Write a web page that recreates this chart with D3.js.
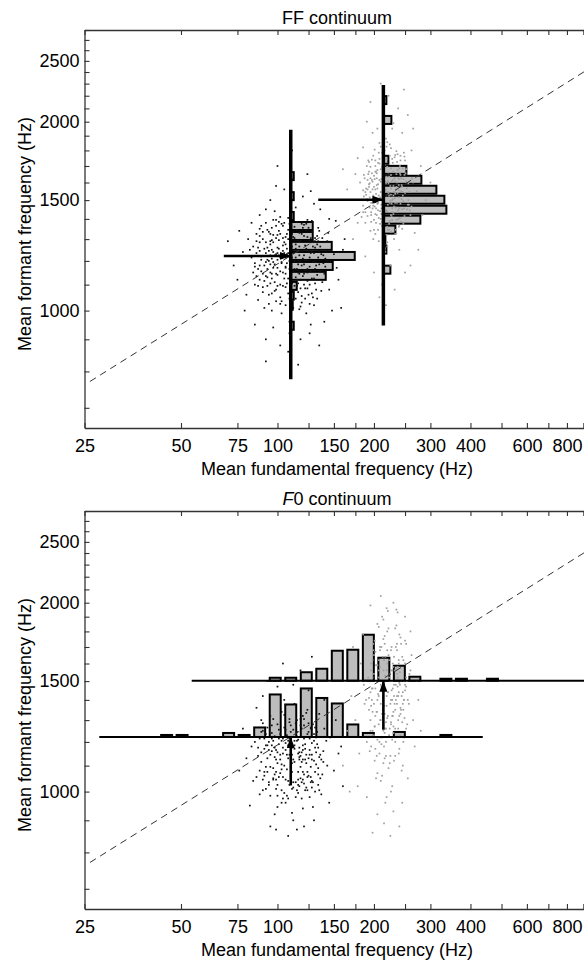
<!DOCTYPE html>
<html>
<head>
<meta charset="utf-8">
<script src="https://cdn.jsdelivr.net/npm/d3@7"></script>
<style>
body { margin: 0; background: #fff; }
text { font-family: "Liberation Sans", Arial, sans-serif; fill: #000; }
</style>
</head>
<body>
<svg id="fig" width="584" height="962"></svg>
<script>
// ---- axes ----
let xTicks = [25, 50, 75, 100, 125, 150, 175, 200, 250, 300, 400, 500, 600, 700, 800, 900, 1000];
let xTickLabels = [25, 50, 75, 100, 150, 200, 300, 400, 600, 800];
let yTicks = [700, 800, 900, 1000, 1100, 1200, 1300, 1400, 1500, 1600, 1700, 1800, 1900, 2000,
	2100, 2200, 2300, 2400, 2500, 2600, 2700, 2800];
let yTickLabels = [1000, 1500, 2000, 2500];
let titles = ["FF continuum", "F0 continuum"];

// category means (F0 Hz, formant Hz) and the dashed line through them
let meanF0 = [110, 214];
let meanF = [1222, 1502];
let diagonal = [[26, 771], [1000, 2480]];

// ---- FF continuum: formant histograms hung on the mean F0 ----
let ffSpan = [[777, 1941], [947, 2289]];
let ffBins1 = [1638, 1522, 1415, 1364, 1315, 1268, 1222, 1178, 1136, 1095, 1056, 1018, 946];
let ffCounts1 = [6, 6, 6, 44, 44, 82, 128, 84, 70, 12, 6, 4, 6];
let ffBins2 = [2165, 2013, 1739, 1676, 1616, 1558, 1502, 1448, 1396, 1346, 1297, 1251, 1162];
let ffCounts2 = [6, 16, 10, 46, 76, 106, 122, 126, 74, 24, 4, 6, 14];
let ffArrowTailF0 = [68, 134];

// ---- F0 continuum: F0 histograms laid on the mean formant ----
let f0Span = [[27.8, 437], [54, 1000]];
let f0Bins = [45.1, 50.4, 56.4, 63.0, 70.4, 78.7, 88.0, 98.4, 110.0, 123.0, 137.5, 153.7, 171.8,
	192.1, 214.7, 240.0, 268.3, 300.0, 335.3, 374.9, 419.1, 468.5];
let f0Counts1 = [4, 4, 0, 0, 8, 4, 19, 85, 65, 97, 78, 67, 25, 8, 0, 10, 0, 0, 4, 0, 0, 0];
let f0Counts2 = [0, 0, 0, 0, 0, 0, 0, 6, 6, 17, 24, 60, 62, 92, 46, 30, 8, 0, 4, 4, 0, 4];
let f0ArrowTailF = [1023, 1255];

// ---- scatter tokens [F0, formant] ----
let ffTokens1 = [
[96,1210],[104,1150],[118,1290],[88,1120],[125,1060],[101,1340],[112,1010],[93,1260],[132,1180],[107,1230],
[85,1190],[99,1080],[121,1370],[115,1120],[90,1300],[128,1240],[103,990],[95,1150],[138,1110],[110,1420],
[82,1250],[106,1170],[119,1030],[92,1380],[134,1290],[100,1260],[113,1200],[87,1040],[124,1150],[97,1320],
[141,1210],[109,960],[91,1180],[117,1330],[102,1100],[130,1020],[86,1290],[122,1270],[105,1380],[94,1060],
[147,1160],[111,1250],[98,1440],[126,1100],[89,1220],[135,1340],[103,1190],[116,1070],[84,1150],[120,1210],
[108,1300],[96,1000],[131,1260],[93,1130],[114,1460],[145,1080],[100,1170],[123,990],[88,1350],[110,1140],
[137,1230],[95,1290],[119,1180],[102,1050],[128,1390],[90,1070],[112,1310],[99,1230],[143,1290],[106,1090],
[81,1300],[127,950],[97,1170],[115,1240],[92,1450],[133,1140],[104,1270],[87,1260],[121,1100],[109,1200],
[150,1230],[94,1200],[118,1120],[100,1320],[129,1050],[85,1100],[113,1360],[106,1020],[139,1190],[96,1250],
[124,1310],[91,1010],[110,1280],[102,1410],[132,1080],[88,1180],[116,1150],[98,1110],[144,1330],[107,1190],
[78,1240],[76,1340],[155,1120],[160,1250],[152,1390],[80,1060],[73,1180],[158,1010],[120,1520],[105,1560],
[95,1500],[130,1480],[112,1620],[100,1700],[118,900],[92,900],[135,880],[108,860],[126,920],[85,950],
[140,960],[97,940],[148,1000],[88,1420],[75,1120],[162,1300],[111,1800],[124,1650],[92,830],[116,820],
[70,1290],[102,880],[136,1450],[83,1380],[153,1170],[99,1580],[127,1550],[109,920],[145,1400],[79,1000],
[101,1225],[113,1165],[95,1275],[123,1205],[87,1165],[108,1345],[118,1085],[99,1145],[127,1285],[92,1235],
[111,1105],[104,1305],[131,1165],[96,1065],[115,1385],[89,1205],[122,1045],[107,1255],[136,1265],[98,1185],
[119,1325],[93,1095],[112,1235],[128,1125],[86,1325],[103,1035],[125,1355],[97,1395],[117,1005],[109,1165],
[140,1145],[90,1145],[114,1275],[100,1095],[133,1315],[94,1335],[121,1145],[106,1215],[88,1285],[129,1195],
[102,1155],[116,1295],[95,1225],[124,1085],[110,1355],[91,1115],[134,1215],[105,1125],[120,1245],[97,1285],
[83,1215],[126,1175],[108,1065],[99,1365],[118,1195],[93,1165],[131,1105],[112,1335],[87,1095],[104,1245],
[142,1245],[96,1125],[115,1165],[101,1295],[128,1335],[90,1335],[120,1135],[107,1105],[135,1185],[98,1225],
[123,1255],[110,1185],[94,1025],[117,1225],[103,1375],[86,1235],[126,1025],[113,1095],[100,1205],[138,1305],
[92,1195],[121,1315],[105,1285],[130,1235],[96,1355],[114,1045],[108,1405],[89,1155],[127,1155],[119,1375],
[102,1325],[133,1045],[95,1105],[111,1265],[124,1395],[99,1035],[116,1105],[84,1265],[146,1195],[106,1145],
[97,1240],[114,1130],[106,1310],[121,1185],[90,1090],[131,1305],[100,1140],[117,1265],[93,1345],[126,1215],
[109,1045],[103,1195],[136,1155],[88,1245],[119,1055],[111,1325],[95,1185],[128,1065],[105,1235],[98,1075],
[123,1375],[114,1215],[86,1135],[133,1275],[101,1255],[117,1145],[92,1285],[127,1305],[108,1125],[99,1395],
[139,1225],[112,1075],[94,1245],[121,1225],[104,1095],[130,1125],[89,1365],[115,1345],[106,1275],[124,1115],
[96,1145],[111,1215],[134,1355],[102,1025],[118,1245],[91,1255],[129,1265],[107,1325],[97,1195],[122,1085],
[113,1305],[100,1235],[137,1075],[85,1175],[116,1185],[104,1365],[126,1295],[93,1205],[110,1045],[131,1195],
[99,1305],[120,1355],[106,1175],[88,1315],[124,1165],[114,1255],[95,1325],[135,1245],[102,1215],[118,1015],
[109,1375],[127,1235],[92,1135],[115,1095],[101,1385],[141,1175],[108,1235],[96,1295],[123,1345],[112,1155]
];
let ffTokens2 = [
[205,1480],[218,1560],[196,1420],[232,1510],[211,1620],[189,1530],[245,1450],[224,1390],[202,1700],[214,1350],
[236,1600],[198,1560],[227,1480],[207,1290],[250,1540],[192,1650],[219,1440],[241,1700],[203,1380],[230,1580],
[185,1470],[213,1750],[238,1400],[200,1510],[222,1660],[209,1440],[247,1620],[195,1340],[226,1530],[216,1800],
[181,1600],[234,1460],[206,1590],[256,1500],[199,1470],[220,1360],[243,1550],[210,1680],[188,1380],[229,1720],
[217,1240],[201,1620],[239,1360],[193,1590],[224,1840],[212,1500],[252,1680],[204,1420],[235,1650],[197,1740],
[260,1420],[215,1580],[186,1520],[231,1300],[208,1850],[242,1480],[199,1300],[221,1610],[249,1760],[190,1700],
[226,1420],[213,1660],[237,1540],[202,1560],[265,1600],[219,1320],[194,1460],[233,1770],[210,1400],[245,1350],
[183,1410],[228,1500],[206,1720],[254,1450],[218,1880],[200,1640],[240,1620],[214,1230],[191,1560],[225,1580],
[170,1500],[175,1650],[272,1550],[280,1700],[178,1380],[268,1330],[165,1560],[290,1500],[185,1820],[262,1800],
[205,1950],[230,1990],[215,2080],[198,1920],[245,1920],[222,2200],[210,2300],[238,2100],[190,2000],[255,2050],
[200,1150],[225,1180],[240,1250],[212,1100],[188,1220],[250,1150],[232,1080],[218,1020],[275,1250],[260,1180],
[160,1680],[172,1300],[283,1420],[300,1600],[178,1750],[195,2150],[248,2250],[228,1950],[208,1050],[265,1950],
[207,1525],[221,1475],[198,1605],[234,1555],[213,1415],[191,1495],[244,1585],[226,1645],[203,1455],[216,1705],
[238,1445],[200,1395],[229,1615],[210,1545],[252,1605],[195,1545],[223,1525],[241,1655],[206,1345],[233,1485],
[187,1625],[214,1645],[247,1495],[202,1735],[227,1415],[218,1595],[236,1725],[196,1385],[211,1475],[258,1545],
[204,1625],[224,1765],[193,1665],[239,1515],[215,1315],[230,1665],[200,1575],[249,1415],[220,1695],[209,1375],
[188,1435],[231,1545],[212,1785],[243,1625],[199,1505],[226,1335],[217,1545],[254,1685],[205,1565],[235,1395],
[192,1735],[222,1595],[240,1455],[208,1715],[228,1455],[197,1655],[246,1545],[214,1465],[232,1625],[202,1425],
[262,1465],[219,1745],[189,1565],[237,1775],[210,1605],[225,1495],[201,1805],[243,1385],[216,1635],[230,1425],
[194,1515],[250,1735],[206,1485],[223,1375],[239,1585],[212,1695],[198,1455],[233,1535],[220,1285],[246,1685],
[185,1555],[228,1745],[209,1515],[256,1595],[203,1665],[236,1485],[217,1405],[191,1615],[242,1765],[213,1575],
[226,1565],[200,1345],[248,1455],[219,1635],[207,1785],[234,1345],[195,1695],[221,1545],[240,1685],[211,1425],
[209,1505],[222,1535],[201,1465],[235,1575],[215,1655],[194,1595],[246,1525],[228,1395],[205,1675],[218,1445],
[238,1625],[199,1525],[231,1465],[212,1365],[253,1565],[197,1615],[224,1485],[242,1735],[207,1405],[233,1605],
[190,1505],[216,1725],[240,1365],[203,1535],[226,1685],[211,1455],[249,1645],[196,1435],[229,1505],[219,1825],
[186,1645],[236,1435],[208,1615],[257,1475],[201,1495],[223,1345],[245,1575],[213,1705],[191,1415],[232,1755],
[220,1265],[204,1655],[241,1405],[195,1625],[226,1815],[214,1525],[251,1655],[206,1445],[237,1675],[199,1765],
[259,1445],[217,1605],[188,1545],[233,1325],[210,1825],[244,1505],[202,1325],[223,1635],[248,1785],[193,1725],
[228,1435],[215,1685],[239,1555],[204,1585],[263,1625],[221,1345],[196,1485],[235,1795],[212,1385],[247,1375],
[185,1435],[230,1525],[208,1745],[255,1475],[220,1855],[202,1665],[242,1645],[216,1255],[193,1575],[227,1605]
];
let f0Tokens1 = [
[105,1100],[118,1050],[96,1160],[125,1130],[110,1220],[88,1080],[131,1000],[100,1280],[114,980],[122,1190],
[93,1130],[108,1040],[127,1260],[99,1010],[116,1150],[85,1200],[134,1090],[103,1340],[120,940],[111,1110],
[90,1250],[128,1040],[97,1090],[115,1300],[106,960],[139,1160],[92,1010],[123,1110],[101,1190],[117,1020],
[87,1140],[132,1220],[110,1060],[95,1320],[126,980],[104,1150],[119,1260],[91,1060],[136,1050],[107,1230],
[98,920],[124,1350],[113,1170],[89,1300],[130,1120],[102,1070],[121,1030],[94,1200],[143,1100],[109,1290],
[84,1040],[118,1140],[100,1110],[129,1280],[112,900],[96,1240],[125,1060],[105,1400],[137,990],[91,1170],
[116,1210],[103,960],[133,1190],[88,990],[120,1320],[108,1130],[146,1220],[97,1050],[122,1170],[111,1010],
[80,1130],[150,1080],[155,1150],[78,1260],[160,1020],[82,950],[95,880],[115,870],[130,900],[108,850],
[125,1450],[100,1470],[140,1400],[90,1420],[112,1480],[135,1330],[86,1360],[118,1560],[104,1600],[128,1640],
[145,960],[76,1080],[152,1300],[99,870],[121,880],[140,1260],[83,1180],[158,1180],[93,1500],[113,1380],
[107,1085],[120,1125],[97,1045],[113,1205],[128,1015],[102,1145],[116,995],[92,1185],[124,1235],[109,1025],
[99,1165],[131,1075],[105,1265],[118,1095],[94,1035],[126,1145],[111,1175],[100,985],[135,1135],[89,1115],
[121,1065],[106,1195],[96,1275],[128,1195],[114,1035],[103,1105],[133,1245],[91,1215],[117,1175],[108,975],
[123,1015],[98,1135],[112,1255],[127,1095],[95,1095],[119,1035],[104,1215],[138,1065],[101,1055],[115,1245],
[87,1175],[125,1285],[110,1095],[129,945],[97,1205],[120,1185],[106,1045],[132,1155],[93,1265],[116,1075],
[102,1235],[122,1005],[111,1145],[90,1045],[126,1215],[105,995],[118,1305],[99,1125],[134,1025],[113,1115],
[94,1165],[121,1275],[108,1185],[130,1205],[103,1005],[117,1125],[96,1215],[124,1055],[110,1245],[100,1155],
[137,1125],[92,1095],[115,1205],[127,1035],[106,1255],[119,1155],[98,1065],[131,1265],[112,1035],[104,1175],
[123,1145],[89,1245],[116,1025],[109,1305],[128,1125],[101,1215],[120,1075],[95,985],[134,1175],[107,1145],
[103,1085],[119,1115],[98,1175],[126,1165],[108,1205],[91,1075],[129,1035],[101,1255],[115,1005],[121,1215],
[95,1145],[110,1055],[125,1245],[100,1025],[117,1135],[88,1215],[132,1105],[105,1325],[119,975],[112,1125],
[92,1235],[127,1055],[99,1075],[114,1285],[107,985],[136,1145],[94,1025],[122,1125],[103,1205],[116,1045],
[89,1155],[130,1235],[111,1075],[97,1305],[124,1005],[106,1165],[118,1275],[93,1075],[134,1065],[109,1215],
[100,945],[123,1335],[113,1185],[90,1285],[128,1145],[104,1055],[120,1045],[96,1185],[139,1115],[110,1275],
[86,1055],[117,1155],[102,1125],[127,1265],[111,925],[98,1225],[124,1075],[106,1375],[135,1005],[93,1185],
[115,1225],[104,975],[131,1175],[90,1005],[121,1305],[109,1145],[142,1205],[99,1045],[120,1165],[112,1015]
];
let f0Tokens2 = [
[210,1300],[225,1380],[198,1250],[236,1420],[215,1180],[204,1500],[242,1330],[220,1600],[193,1350],[230,1240],
[212,1450],[248,1500],[201,1120],[226,1680],[218,1290],[239,1150],[207,1560],[232,1380],[195,1440],[252,1260],
[214,1750],[222,1090],[200,1650],[245,1640],[228,1320],[210,1040],[236,1540],[190,1200],[219,1420],[257,1380],
[205,1850],[240,1780],[216,1240],[198,1520],[231,1120],[223,1520],[212,1900],[247,1200],[202,1320],[234,1700],
[187,1380],[226,1000],[215,1620],[250,1450],[208,1200],[238,1300],[196,1600],[229,1460],[219,1960],[244,1080],
[205,1400],[233,1820],[214,1110],[260,1560],[199,1720],[224,1260],[241,1480],[209,1680],[186,1480],[237,1580],
[217,960],[228,1560],[203,1050],[252,1720],[213,1350],[235,1950],[194,1160],[220,1800],[246,1380],[207,1280],
[175,1300],[180,1150],[170,1420],[265,1300],[272,1500],[268,1180],[182,1600],[178,1020],[190,980],[230,930],
[215,890],[245,960],[205,920],[255,1050],[240,880],[198,860],[225,850],[262,1650],[275,1400],[185,1780],
[165,1250],[160,1100],[168,1000],[250,1900],[230,2000],[210,2050],[195,1980],[260,1800],[172,1700],[280,1250],
[212,1330],[227,1450],[200,1380],[238,1260],[217,1530],[205,1210],[244,1420],[222,1650],[195,1300],[232,1560],
[210,1480],[249,1310],[203,1590],[228,1210],[219,1370],[236,1680],[198,1460],[214,1250],[241,1550],[207,1620],
[225,1140],[193,1410],[233,1350],[216,1720],[246,1440],[201,1270],[229,1600],[211,1190],[237,1470],[196,1560],
[221,1320],[252,1520],[206,1430],[230,1270],[214,1560],[242,1230],[199,1680],[226,1400],[218,1140],[239,1620],
[204,1340],[234,1480],[209,1700],[247,1350],[223,1230],[192,1520],[231,1420],[215,1480],[243,1720],[202,1170],
[227,1560],[212,1220],[236,1380],[197,1400],[220,1680],[250,1600],[207,1500],[229,1320],[217,1260],[240,1490],
[200,1230],[224,1500],[213,1640],[245,1290],[205,1590],[233,1200],[219,1560],[195,1250],[238,1420],[210,1380],
[226,1290],[202,1460],[248,1400],[216,1330],[231,1640],[208,1150],[242,1360],[221,1440],[198,1340],[235,1570],
[213,1310],[228,1400],[201,1270],[239,1440],[218,1200],[207,1520],[243,1350],[223,1620],[196,1370],[233,1260],
[211,1470],[250,1480],[204,1140],[227,1700],[220,1310],[240,1170],[209,1580],[234,1400],[197,1460],[254,1280],
[216,1770],[224,1110],[202,1670],[247,1620],[230,1340],[212,1060],[237,1520],[192,1220],[221,1440],[255,1400],
[207,1830],[242,1760],[218,1260],[200,1540],[233,1140],[225,1540],[214,1880],[249,1220],[204,1340],[236,1720],
[189,1400],[228,1020],[217,1640],[252,1470],[210,1220],[240,1320],[198,1620],[231,1480],[221,1940],[246,1100],
[207,1420],[235,1840],[216,1130],[258,1540],[201,1740],[226,1280],[243,1500],[211,1700],[188,1500],[239,1600],
[219,980],[230,1580],[205,1070],[250,1740],[215,1370],[237,1930],[196,1180],[222,1820],[248,1400],[209,1300]
];

// ---- layout ----
let svg = d3.select("#fig");
let left = 84.5, right = 598, plotH = 398;
let tops = [30, 511];
let fontSize = 18;

let x = d3.scaleLog().domain([25, 1000]).range([left, right]);
let len = d3.scaleLinear().domain([0, 128]).range([0, 64]);

svg.append("rect").attr("width", 584).attr("height", 962).attr("fill", "#fff");

let defs = svg.append("defs");
defs.append("marker")
	.attr("id", "head")
	.attr("markerUnits", "userSpaceOnUse")
	.attr("markerWidth", 11).attr("markerHeight", 8)
	.attr("refX", 10).attr("refY", 4)
	.attr("orient", "auto")
	.append("path").attr("d", "M0,0L11,4L0,8Z").attr("fill", "#000");

function drawAxes(g, y, top) {
	let fmtX = d => xTickLabels.includes(d) ? d : "";
	let fmtY = d => yTickLabels.includes(d) ? d : "";

	let bottom = g.append("g").attr("transform", "translate(0," + (top + plotH) + ")")
		.call(d3.axisBottom(x).tickValues(xTicks).tickFormat(fmtX).tickSizeInner(-5).tickSizeOuter(0).tickPadding(11));
	let topAx = g.append("g").attr("transform", "translate(0," + top + ")")
		.call(d3.axisTop(x).tickValues(xTicks).tickFormat("").tickSizeInner(-5).tickSizeOuter(0));
	let leftAx = g.append("g").attr("transform", "translate(" + left + ",0)")
		.call(d3.axisLeft(y).tickValues(yTicks).tickFormat(fmtY).tickSizeInner(-5).tickSizeOuter(0).tickPadding(5));

	[bottom, topAx, leftAx].forEach(a => {
		a.selectAll("path").attr("stroke", "#333").attr("stroke-width", 1.3);
		a.selectAll("line").attr("stroke", "#333").attr("stroke-width", 1.1);
		a.selectAll("text").attr("font-size", fontSize).attr("font-family", null);
	});
}

function drawTokens(g, y, tokens, color) {
	g.append("g").selectAll("rect")
		.data(tokens)
		.enter().append("rect")
		.attr("x", d => x(d[0]) - 0.85)
		.attr("y", d => y(d[1]) - 0.85)
		.attr("width", 1.7)
		.attr("height", 1.7)
		.attr("fill", color);
}

function drawDiagonal(g, y) {
	g.append("path")
		.attr("d", d3.line().x(d => x(d[0])).y(d => y(d[1]))(diagonal))
		.attr("fill", "none")
		.attr("stroke", "#333")
		.attr("stroke-width", 1)
		.attr("stroke-dasharray", "7,5");
}

function arrow(g, x1, y1, x2, y2) {
	g.append("line")
		.attr("x1", x1).attr("y1", y1)
		.attr("x2", x2).attr("y2", y2)
		.attr("stroke", "#000")
		.attr("stroke-width", 2.6)
		.attr("marker-end", "url(#head)");
}

// ---- panel 1: FF continuum ----
(function ffPanel() {
	let top = tops[0];
	let y = d3.scaleLog().domain([650, 2800]).range([top + plotH, top]);
	let g = svg.append("g");
	let hists = [[ffBins1, ffCounts1], [ffBins2, ffCounts2]];

	// bars first, tokens and the dashed line are printed over them
	hists.forEach((h, i) => {
		let x0 = x(meanF0[i]);
		let bins = h[0].map((f, j) => ({ f: f, n: h[1][j] })).filter(d => d.n > 0);
		g.append("g").selectAll("rect")
			.data(bins)
			.enter().append("rect")
			.attr("x", x0)
			.attr("y", d => y(d.f) - 4)
			.attr("width", d => len(d.n))
			.attr("height", 8)
			.attr("fill", "#bdbdbd")
			.attr("stroke", "#000")
			.attr("stroke-width", 2);
	});

	drawTokens(g, y, ffTokens2, "#a0a0a0");
	drawTokens(g, y, ffTokens1, "#111");
	drawDiagonal(g, y);

	hists.forEach((h, i) => {
		let x0 = x(meanF0[i]);
		g.append("line")
			.attr("x1", x0).attr("x2", x0)
			.attr("y1", y(ffSpan[i][0])).attr("y2", y(ffSpan[i][1]))
			.attr("stroke", "#000")
			.attr("stroke-width", 3.5);
		arrow(g, x(ffArrowTailF0[i]), y(meanF[i]), x0 - 1, y(meanF[i]));
	});

	drawAxes(g, y, top);
})();

// ---- panel 2: F0 continuum ----
(function f0Panel() {
	let top = tops[1];
	let y = d3.scaleLog().domain([650, 2800]).range([top + plotH, top]);
	let g = svg.append("g");
	let hists = [f0Counts1, f0Counts2];

	hists.forEach((counts, i) => {
		let y0 = y(meanF[i]);
		let bins = f0Bins.map((f, j) => ({ f: f, n: counts[j] })).filter(d => d.n > 0);
		g.append("g").selectAll("rect")
			.data(bins)
			.enter().append("rect")
			.attr("x", d => x(d.f) - 5.5)
			.attr("y", d => y0 - len(d.n))
			.attr("width", 11)
			.attr("height", d => len(d.n))
			.attr("fill", "#bdbdbd")
			.attr("stroke", "#000")
			.attr("stroke-width", 2);
	});

	drawTokens(g, y, f0Tokens2, "#a0a0a0");
	drawTokens(g, y, f0Tokens1, "#111");
	drawDiagonal(g, y);

	hists.forEach((counts, i) => {
		let y0 = y(meanF[i]);
		g.append("line")
			.attr("x1", x(f0Span[i][0])).attr("x2", x(f0Span[i][1]))
			.attr("y1", y0).attr("y2", y0)
			.attr("stroke", "#000")
			.attr("stroke-width", 2);
		arrow(g, x(meanF0[i]), y(f0ArrowTailF[i]), x(meanF0[i]), y0 + 1);
	});

	drawAxes(g, y, top);
})();

// ---- titles and axis labels ----
let cx = 337;
svg.append("text").attr("x", cx).attr("y", 24).attr("text-anchor", "middle")
	.attr("font-size", fontSize).text(titles[0]);
let t2 = svg.append("text").attr("x", cx).attr("y", 505).attr("text-anchor", "middle")
	.attr("font-size", fontSize);
t2.append("tspan").attr("font-style", "italic").text("F");
t2.append("tspan").text(titles[1].slice(1));

tops.forEach(top => {
	svg.append("text")
		.attr("x", cx).attr("y", top + plotH + 47)
		.attr("text-anchor", "middle")
		.attr("font-size", fontSize)
		.text("Mean fundamental frequency (Hz)");
	svg.append("text")
		.attr("transform", "translate(31," + (top + plotH / 2 + 5) + ") rotate(-90)")
		.attr("text-anchor", "middle")
		.attr("font-size", fontSize)
		.text("Mean formant frequency (Hz)");
});
</script>
</body>
</html>
